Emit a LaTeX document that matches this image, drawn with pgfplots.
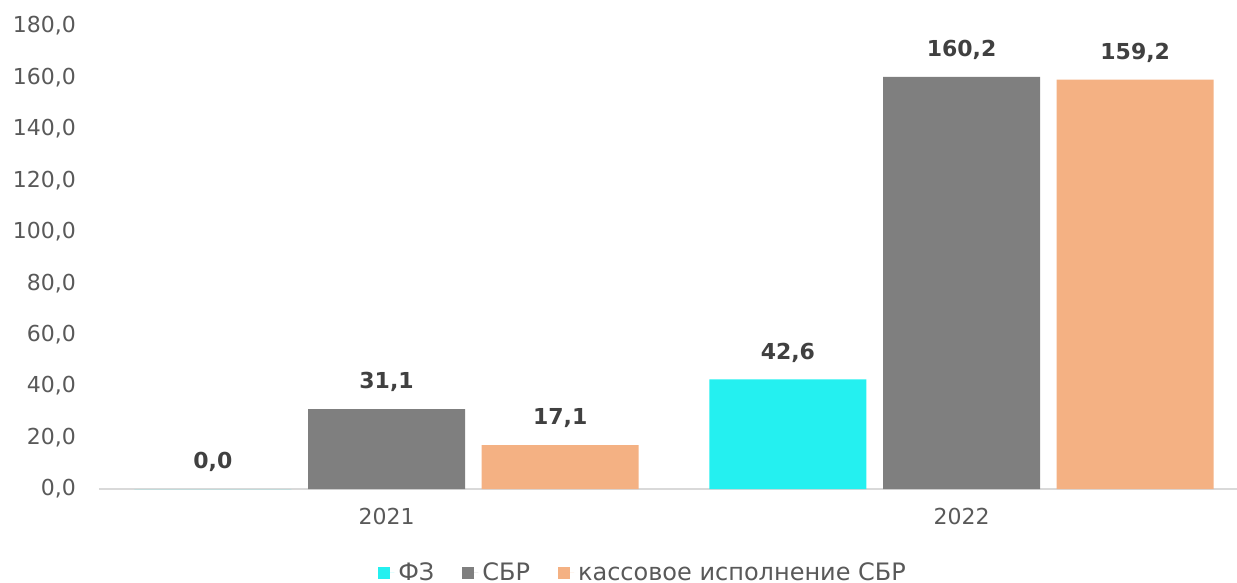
\documentclass[border=0pt]{standalone}
\usepackage{pgfplots}
\pgfplotsset{compat=1.18}
\usepackage{fontspec}
\setmainfont{DejaVu Sans}
\usetikzlibrary{calc}
\definecolor{cFZ}{HTML}{24F0F0}
\definecolor{cSBR}{HTML}{7F7F7F}
\definecolor{cKas}{HTML}{F4B183}
\definecolor{txt}{HTML}{595959}
\definecolor{lab}{HTML}{404040}
\definecolor{axl}{HTML}{D9D9D9}
\newcommand{\fs}{\fontsize{11}{13}\selectfont}
\newcommand{\fl}{\fontsize{12}{14}\selectfont}
\begin{document}
\begin{tikzpicture}
\begin{axis}[
  scale only axis, width=569pt, height=231.5pt,
  xmin=-0.5, xmax=1.479, ymin=0, ymax=180,
  ytick={0,20,...,180},
  xtick={0,1}, xticklabels={2021,2022},
  axis lines*=left,
  y axis line style={draw=none},
  x axis line style={-, draw=axl, line width=1pt},
  major tick length=0pt,
  tick style={draw=none},
  ybar, bar width=0.273,
  legend image code/.code={\fill[#1] (0pt,-3pt) rectangle (6pt,3pt); \path (0pt,0pt) -- (8pt,0pt);},
  /pgf/number format/assume math mode=true,
  yticklabel style={font=\fs, text=txt, xshift=-8pt,
    /pgf/number format/fixed, /pgf/number format/fixed zerofill,
    /pgf/number format/precision=1, /pgf/number format/use comma},
  xticklabel style={font=\fs, text=txt, yshift=-6pt},
  nodes near coords={\pgfmathprintnumber[fixed,fixed zerofill,precision=1,use comma]{\pgfplotspointmeta}},
  every node near coord/.append style={font=\fs\bfseries, text=lab, yshift=5pt},
  legend columns=3,
  legend style={draw=none, at={(0.479,-0.181)}, anchor=center, font=\fl, text=txt,
    /tikz/every even column/.append style={column sep=12pt}},
  clip=false,
]
\addplot[fill=cFZ, draw=none, bar shift=-0.302] coordinates {(0,0) (1,42.6)};
\addplot[fill=cSBR, draw=none, bar shift=0] coordinates {(0,31.1) (1,160.2)};
\addplot[fill=cKas, draw=none, bar shift=0.302] coordinates {(0,17.1) (1,159.2)};
\legend{ФЗ, СБР, кассовое исполнение СБР}
\end{axis}
\pgfresetboundingbox
\path ($(current axis.south west)+(-49.5pt,-47pt)$) rectangle ($(current axis.north east)+(0pt,13pt)$);
\end{tikzpicture}
\end{document}
